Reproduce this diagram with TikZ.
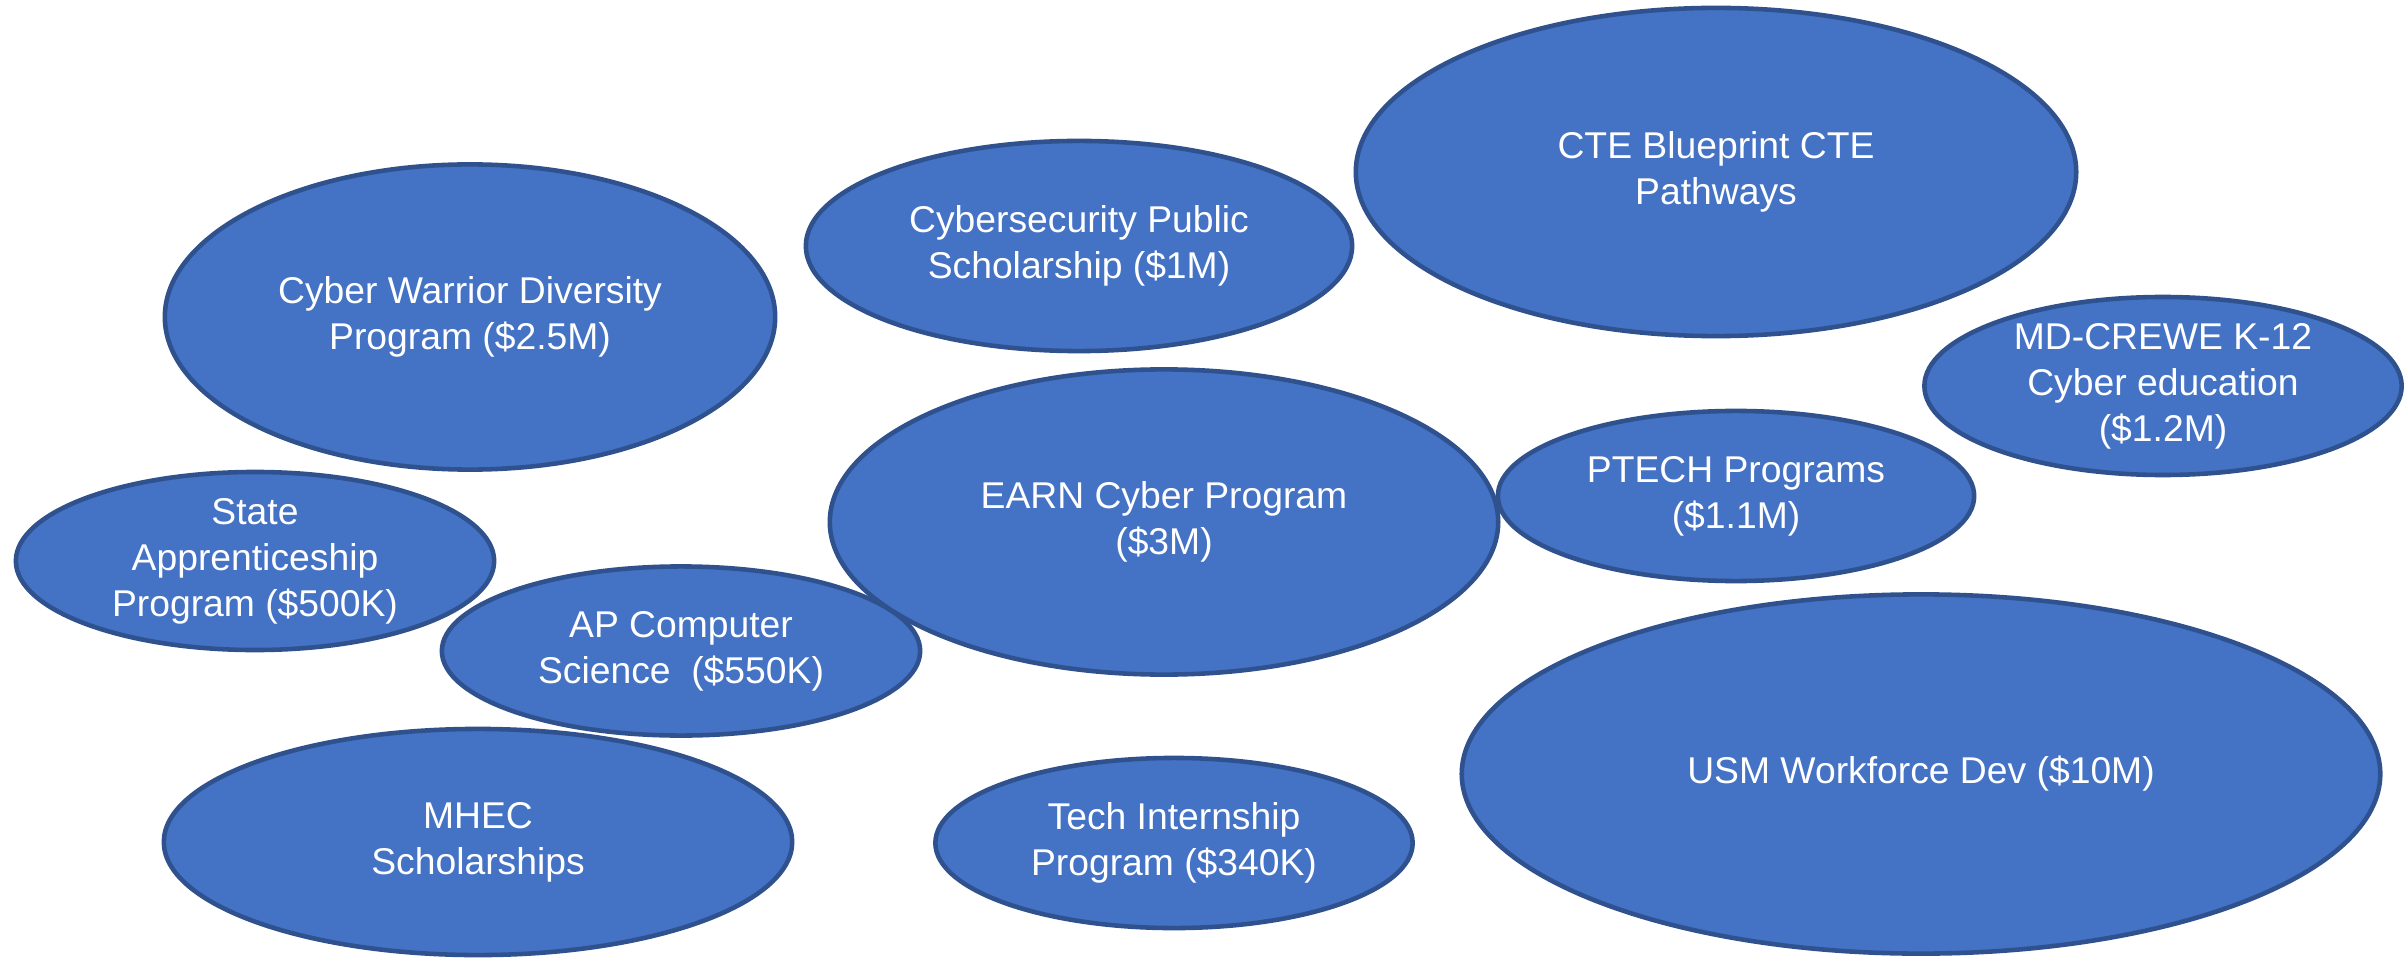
\documentclass[tikz,border=0pt]{standalone}
\usepackage{fontspec}
\setmainfont{Liberation Sans}
\usepackage{tikz}
\usetikzlibrary{shapes.geometric}
\definecolor{bubblefill}{HTML}{4472C4}
\definecolor{bubbleline}{HTML}{2F528F}

\begin{document}
\begin{tikzpicture}[x=0.01cm,y=-0.01cm
	,semithick]
  \tikzstyle{bubble}
  =[ellipse,draw=bubbleline,fill=bubblefill,line width=1.3pt
  ,inner sep=0pt,text=white,align=center
  ,font=\fontsize{10.6}{13.1}\selectfont]

  \fill[white] (0,0) rectangle (2404,958);
  \useasboundingbox (0,0) rectangle (2404,958);

  % top row
  \node[bubble,minimum width=6.10cm,minimum height=3.05cm] (cwd) at (470,317)
    {Cyber Warrior Diversity\\Program (\$2.5M)};
  \node[bubble,minimum width=5.46cm,minimum height=2.10cm] (csp) at (1079,246)
    {Cybersecurity Public\\Scholarship (\$1M)};
  \node[bubble,minimum width=7.20cm,minimum height=3.28cm] (cte) at (1716,172)
    {CTE Blueprint CTE\\Pathways};
  \node[bubble,minimum width=4.77cm,minimum height=1.71cm] (crewe) at (2163,386)
    {MD-CREWE K-12\\Cyber education\\(\$1.2M)};
  % middle row
  \node[bubble,minimum width=4.78cm,minimum height=1.70cm] (sap) at (255,561)
    {State\\Apprenticeship\\Program (\$500K)};
  \node[bubble,minimum width=4.78cm,minimum height=1.69cm] (apcs) at (681,651)
    {AP Computer\\Science\ \ (\$550K)};
  \node[bubble,minimum width=6.68cm,minimum height=3.05cm] (earn) at (1164,522)
    {EARN Cyber Program\\(\$3M)};
  \node[bubble,minimum width=4.76cm,minimum height=1.70cm] (ptech) at (1736,496)
    {PTECH Programs\\(\$1.1M)};
  % bottom row
  \node[bubble,minimum width=6.28cm,minimum height=2.26cm] (mhec) at (478,842)
    {MHEC\\Scholarships};
  \node[bubble,minimum width=4.77cm,minimum height=1.70cm] (tip) at (1174,843)
    {Tech Internship\\Program (\$340K)};
  \node[bubble,minimum width=9.18cm,minimum height=3.59cm] (usm) at (1921,774)
    {USM Workforce Dev (\$10M)};

\end{tikzpicture}
\end{document}
